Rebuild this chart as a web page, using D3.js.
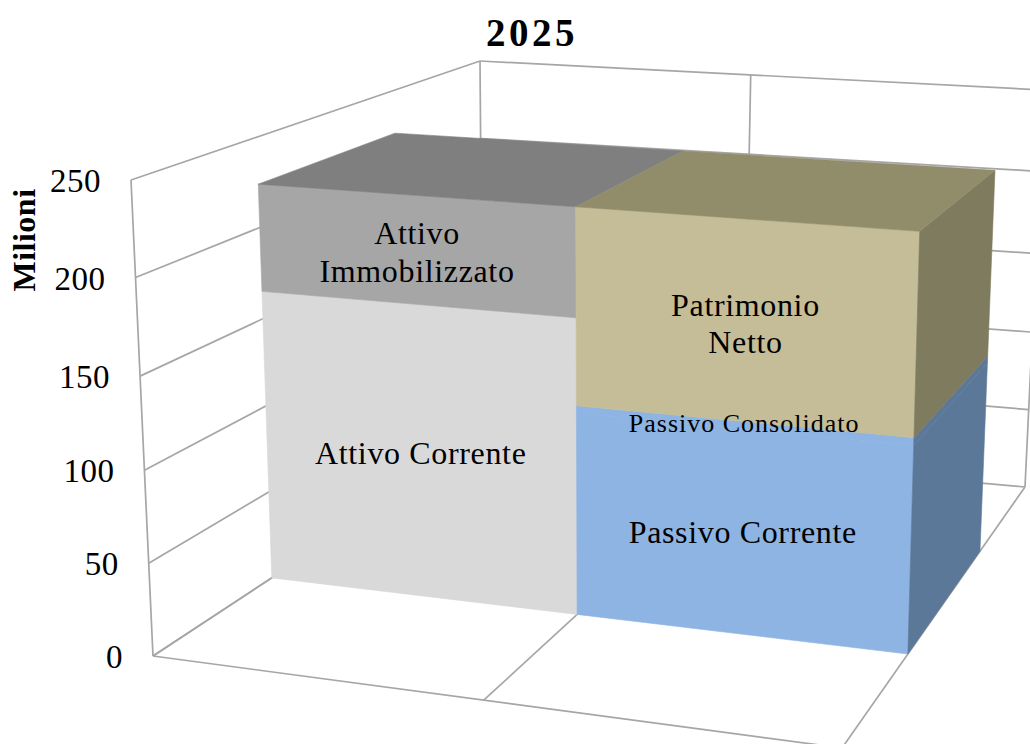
<!DOCTYPE html>
<html>
<head>
<meta charset="utf-8">
<script src="https://cdn.jsdelivr.net/npm/d3@7"></script>
<style>
  html, body { margin: 0; padding: 0; background: #fff; overflow: hidden; }
  svg { display: block; }
  text { font-family: "Liberation Serif", serif; fill: #000; }
</style>
</head>
<body>
<svg width="1030" height="744"></svg>
<script>
// Chart data
const title = "2025";
const axisTitle = "Milioni";
const ticks = [0, 50, 100, 150, 200, 250];

const attivoLabels = [["Attivo Corrente"], ["Attivo", "Immobilizzato"]];
const attivoValues = [165, 59];
const attivoFront = ["#d9d9d9", "#a6a6a6"];
const attivoTop = "#7f7f7f";

const passivoLabels = [["Passivo Corrente"], ["Passivo Consolidato"], ["Patrimonio", "Netto"]];
const passivoValues = [113, 4, 107];
const passivoFront = ["#8db4e2", "#8db4e2", "#c4bd97"];
const passivoSide = ["#5b7899", "#5b7899", "#7f7b5f"];
const passivoTop = "#918c6a";

const svg = d3.select("svg");

// Corners of the 3D box as they land on the page
const floorFL = [153, 656], floorFR = [842, 748], floorBL = [483, 439], floorBR = [1025, 487];
const roofFL = [131, 180], roofFR = [852, 232], roofBL = [480, 61], roofBR = [1044, 90];

// The value axis is a little stretched by the perspective
const yScale = d3.scaleLinear().domain(ticks).range([0, 0.195, 0.39, 0.588, 0.795, 1]);
// Columns are foreshortened, the middle divider is not at 0.5
const xScale = d3.scaleLinear().domain([0, 1, 2]).range([0, 0.48, 1]);
// Depth: 0 is the front of the floor, 1 the back wall
const barFront = 0.36, barBack = 0.754;

function mix(a, b, k) {
  return [a[0] + (b[0] - a[0]) * k, a[1] + (b[1] - a[1]) * k];
}

// column position, value, depth -> page position
function project(col, value, depth) {
  const u = xScale(col), v = yScale(value);
  const front = mix(mix(floorFL, floorFR, u), mix(roofFL, roofFR, u), v);
  const back = mix(mix(floorBL, floorBR, u), mix(roofBL, roofBR, u), v);
  return mix(front, back, depth);
}

const polygon = d3.line().curve(d3.curveLinearClosed);

function addLine(g, from, to) {
  g.append("line")
      .attr("x1", from[0]).attr("y1", from[1])
      .attr("x2", to[0]).attr("y2", to[1]);
}

function addFace(g, points, color) {
  g.append("path")
      .attr("d", polygon(points))
      .attr("fill", color)
      .attr("stroke", color)
      .attr("stroke-width", 0.6);
}

// Walls and floor
const grid = svg.append("g")
    .attr("stroke", "#a6a6a6")
    .attr("stroke-width", 1.7)
    .attr("fill", "none");

ticks.forEach(t => {
  addLine(grid, project(0, t, 0), project(0, t, 1)); // left wall
  addLine(grid, project(0, t, 1), project(2, t, 1)); // back wall
});
[0, 1, 2].forEach(c => {
  addLine(grid, project(c, 0, 0), project(c, 0, 1)); // floor, front to back
  addLine(grid, project(c, 0, 1), project(c, 250, 1)); // back wall uprights
});
addLine(grid, project(0, 0, 0), project(0, 250, 0));
addLine(grid, project(0, 0, 0), project(2, 0, 0));

// Columns
const bars = svg.append("g");

function drawColumn(col, values, front, side, top) {
  const ends = Array.from(d3.cumsum(values));
  const total = ends[ends.length - 1];
  values.forEach((d, i) => {
    const low = ends[i] - d, high = ends[i];
    addFace(bars, [
      project(col, low, barFront), project(col + 1, low, barFront),
      project(col + 1, high, barFront), project(col, high, barFront)
    ], front[i]);
    if (side) {
      addFace(bars, [
        project(col + 1, low, barFront), project(col + 1, low, barBack),
        project(col + 1, high, barBack), project(col + 1, high, barFront)
      ], side[i]);
    }
  });
  addFace(bars, [
    project(col, total, barFront), project(col + 1, total, barFront),
    project(col + 1, total, barBack), project(col, total, barBack)
  ], top);
}

drawColumn(0, attivoValues, attivoFront, null, attivoTop);
drawColumn(1, passivoValues, passivoFront, passivoSide, passivoTop);

// Labels centred on each front segment, with a small hand nudge
function drawLabels(col, values, labels, sizes, nudges) {
  const ends = Array.from(d3.cumsum(values));
  values.forEach((d, i) => {
    const c = project(col + 0.5, ends[i] - d / 2, barFront);
    const lineHeight = 37.5;
    labels[i].forEach((line, j) => {
      svg.append("text")
          .attr("x", c[0] - 1)
          .attr("y", c[1] + nudges[i] + (j - (labels[i].length - 1) / 2) * lineHeight)
          .attr("text-anchor", "middle")
          .attr("dominant-baseline", "central")
          .attr("font-size", sizes[i])
          .attr("letter-spacing", i === 1 && col === 1 ? 1 : 0.65)
          .text(line);
    });
  });
}

drawLabels(0, attivoValues, attivoLabels, [32, 32], [1, 2]);
drawLabels(1, passivoValues, passivoLabels, [32, 26, 32], [0, -2, 2]);

// Value axis
ticks.forEach(t => {
  const p = project(0, t, 0);
  svg.append("text")
      .attr("x", p[0] - 30)
      .attr("y", p[1] + 1)
      .attr("text-anchor", "end")
      .attr("dominant-baseline", "central")
      .attr("font-size", 33)
      .attr("letter-spacing", 0.5)
      .text(t);
});

svg.append("text")
    .attr("transform", "translate(24,240) rotate(-90)")
    .attr("text-anchor", "middle")
    .attr("dominant-baseline", "central")
    .attr("font-size", 32)
    .attr("font-weight", "bold")
    .attr("letter-spacing", 0.5)
    .text(axisTitle);

svg.append("text")
    .attr("x", 532)
    .attr("y", 32)
    .attr("text-anchor", "middle")
    .attr("dominant-baseline", "central")
    .attr("font-size", 39)
    .attr("font-weight", "bold")
    .attr("letter-spacing", 3.5)
    .text(title);
</script>
</body>
</html>
